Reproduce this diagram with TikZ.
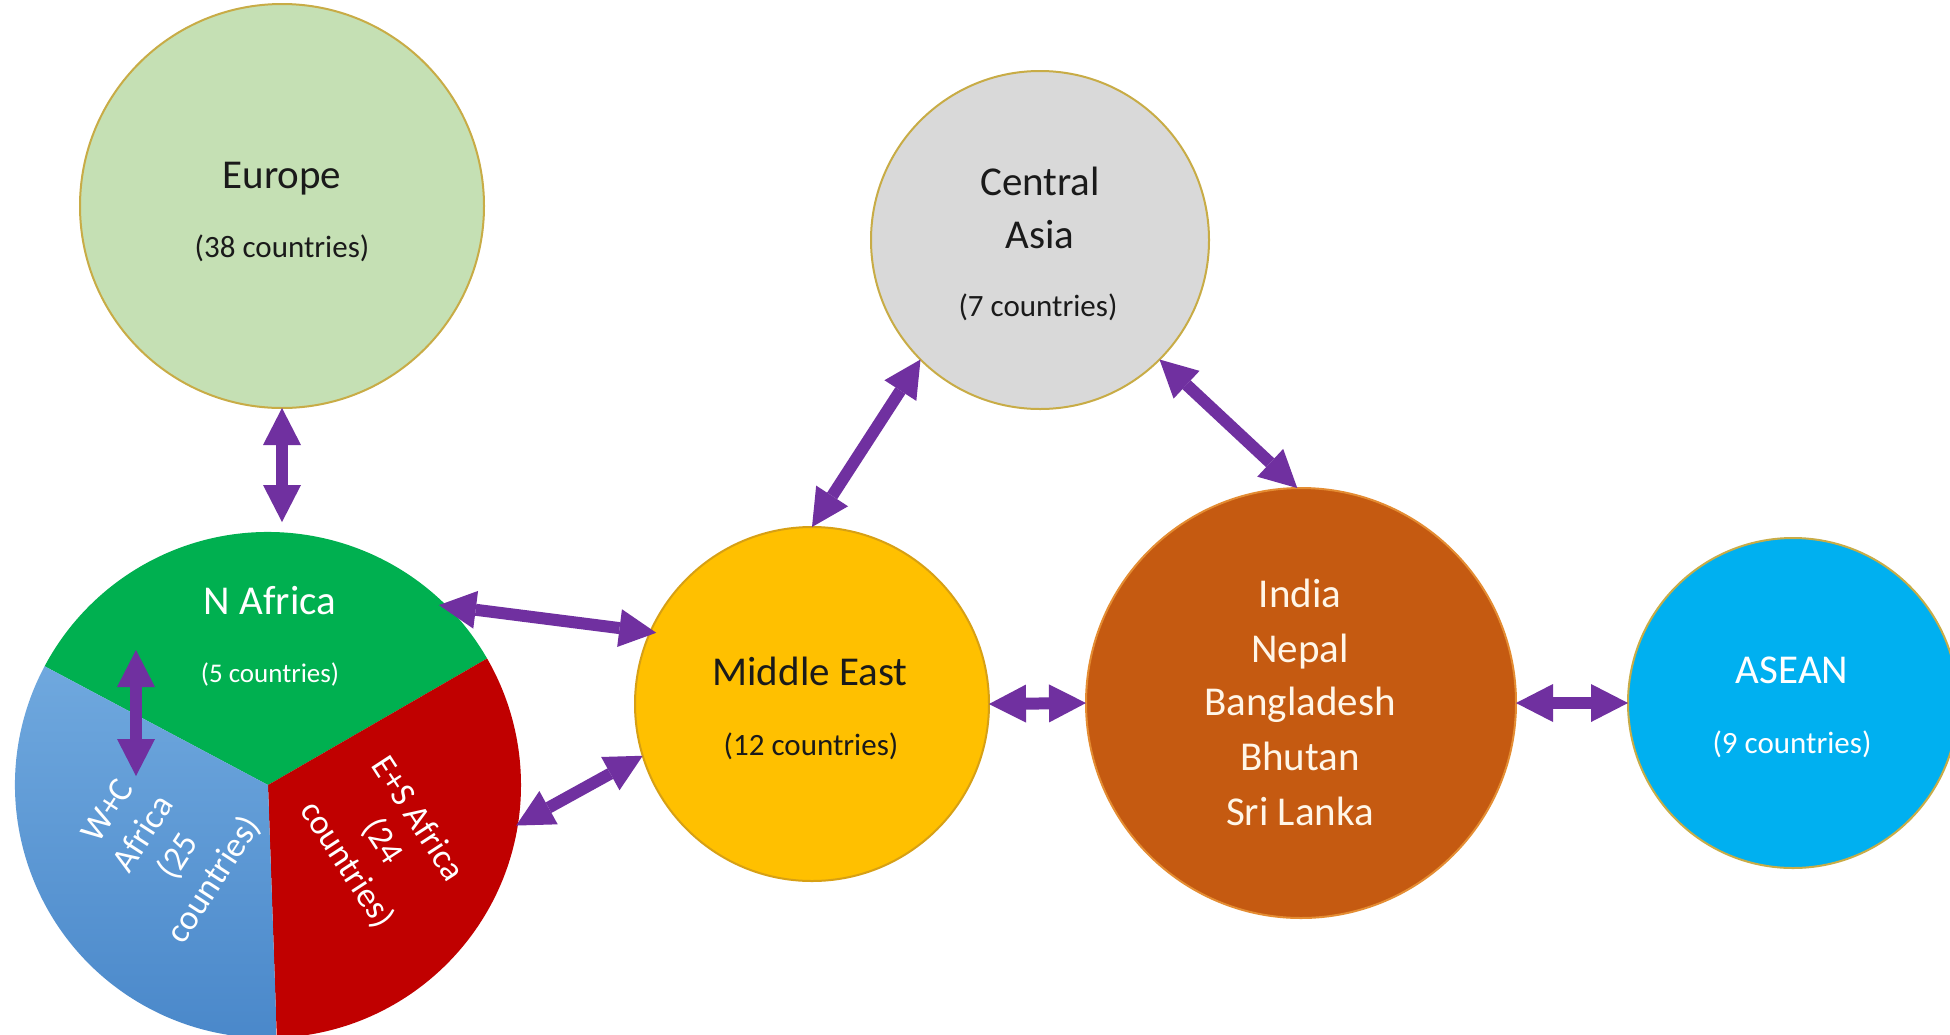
\documentclass[tikz,border=0pt]{standalone}
\usepackage{fontspec}
\setmainfont{Carlito}
\usetikzlibrary{arrows.meta}
\definecolor{arrowc}{HTML}{7030A0}
\definecolor{europefill}{HTML}{C5E0B4}
\definecolor{casiafill}{HTML}{D9D9D9}
\definecolor{mefill}{HTML}{FFC000}
\definecolor{indiafill}{HTML}{C55A11}
\definecolor{aseanfill}{HTML}{00B0F0}
\definecolor{nafrc}{HTML}{00B050}
\definecolor{esafrc}{HTML}{C00000}
\definecolor{wcA}{HTML}{6FA8DE}
\definecolor{wcB}{HTML}{4A88CA}
\definecolor{goldline}{RGB}{200,172,70}
\definecolor{meline}{RGB}{215,160,20}
\definecolor{indialine}{RGB}{228,140,50}
\definecolor{darktext}{HTML}{1A1A1A}
\definecolor{indiatext}{RGB}{255,246,232}
\begin{document}
\begin{tikzpicture}[x=1pt,y=-1pt,
  region/.style={circle, inner sep=0pt, outer sep=0pt, line width=2pt},
  lbl/.style={inner sep=0pt, anchor=base, font=\fontsize{41}{49}\selectfont},
  cnt/.style={inner sep=0pt, anchor=base, font=\fontsize{31}{37}\selectfont},
  rottext/.style={inner sep=0pt, align=center, text=white, font=\fontsize{35}{42}\selectfont},
  biarrow/.style={draw=arrowc, line width=12pt,
    arrows={Triangle[length=37pt,width=38pt,line width=0pt]-Triangle[length=37pt,width=38pt,line width=0pt]}}]
\useasboundingbox (0,0) rectangle (1950,1034);
\fill[white] (0,0) rectangle (1950,1034);

% region circles
\node[region, fill=europefill, draw=goldline, minimum size=404pt] (europe) at (282,206) {};
\node[region, fill=casiafill, draw=goldline, minimum size=338pt] (casia) at (1040,240) {};
\node[region, fill=mefill, draw=meline, minimum size=354pt] (mideast) at (812,704) {};
\node[region, fill=indiafill, draw=indialine, minimum size=430pt] (india) at (1301,703) {};
\node[region, fill=aseanfill, draw=goldline, minimum size=330pt] (asean) at (1793,703) {};

% Africa pie
\node[region, minimum size=506pt] (africa) at (268,785) {};
\begin{scope}[shift={(africa.center)}, yscale=-1]
  \fill[nafrc] (0,0) -- (30:253) arc[start angle=30, end angle=152, radius=253] -- cycle;
  \fill[esafrc] (0,0) -- (-88:253) arc[start angle=-88, end angle=30, radius=253] -- cycle;
  \shade[top color=wcA, bottom color=wcB] (0,0) -- (152:253) arc[start angle=152, end angle=272, radius=253] -- cycle;
\end{scope}

% texts
\node[lbl, text=darktext] (europeT) at (282,188) {Europe};
\node[cnt, text=darktext] (europeC) at (282,257) {(38 countries)};
\node[lbl, text=darktext] (casiaT1) at (1040,195) {Central};
\node[lbl, text=darktext] (casiaT2) at (1040,248) {Asia};
\node[cnt, text=darktext] (casiaC) at (1038,316) {(7 countries)};
\node[lbl, text=darktext] (meT) at (810,685) {Middle East};
\node[cnt, text=darktext] (meC) at (811,755) {(12 countries)};
\node[lbl, text=indiatext] (inT1) at (1300,607) {India};
\node[lbl, text=indiatext] (inT2) at (1300,662) {Nepal};
\node[lbl, text=indiatext] (inT3) at (1300,715) {Bangladesh};
\node[lbl, text=indiatext] (inT4) at (1300,770) {Bhutan};
\node[lbl, text=indiatext] (inT5) at (1300,825) {Sri Lanka};
\node[lbl, text=white] (aseanT) at (1792,683) {ASEAN};
\node[cnt, text=white] (aseanC) at (1792,753) {(9 countries)};
\node[lbl, text=white] (nafrT) at (270,614) {N Africa};
\node[cnt, text=white, font=\fontsize{27}{32}\selectfont] (nafrC) at (270,682) {(5 countries)};
\node[rottext, rotate=57] (wcT) at (162,846) {W+C\\Africa\\(25\\countries)};
\node[rottext, rotate=-57] (esT) at (382,842) {E+S Africa\\(24\\countries)};

% connectors
\coordinate (nafrP) at (136,650);
\coordinate (wcP) at (136,776);
\draw[biarrow, shorten >=10pt] (europe.south) -- (europe.south |- africa.north);
\draw[biarrow, shorten <=-8pt, shorten >=-6pt] (africa.45) -- (mideast.156);
\draw[biarrow, shorten <=-2pt] (africa.-9.5) -- (mideast.197);
\draw[biarrow] (mideast.north) -- (casia.225);
\draw[biarrow] (casia.-45) -- (india.91);
\draw[biarrow] (mideast.east) -- (india.west);
\draw[biarrow] (india.east) -- (asean.west);
\draw[biarrow] (nafrP) -- (wcP);
\end{tikzpicture}
\end{document}
